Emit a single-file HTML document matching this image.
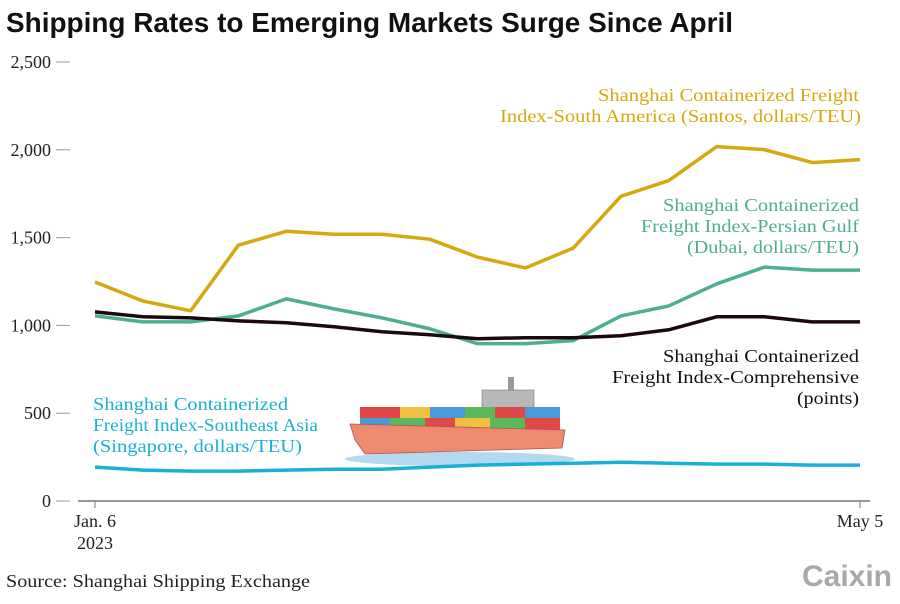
<!DOCTYPE html>
<html><head><meta charset="utf-8"><style>
body{margin:0;background:#fff;}
svg text{font-family:"Liberation Serif",serif;}
</style></head><body>
<svg width="900" height="599" viewBox="0 0 900 599">
<text x="6" y="32" font-weight="bold" font-size="28" fill="#111" textLength="727" lengthAdjust="spacingAndGlyphs" style="font-family:'Liberation Sans',sans-serif">Shipping Rates to Emerging Markets Surge Since April</text>
<g id="yaxis"></g>
<line x1="78" y1="501" x2="870" y2="501" stroke="#777" stroke-width="1.5"/>
<line x1="95" y1="501" x2="95" y2="508" stroke="#777"/>
<line x1="860" y1="501" x2="860" y2="508" stroke="#777"/>
<text x="95" y="527" text-anchor="middle" font-size="18" fill="#222">Jan. 6</text>
<text x="95" y="549" text-anchor="middle" font-size="18" fill="#222">2023</text>
<text x="860" y="527" text-anchor="middle" font-size="18" fill="#222">May 5</text>
<g>
<ellipse cx="460" cy="459" rx="115" ry="7" fill="#9fd0ea" opacity="0.8"/>
<rect x="482" y="390" width="52" height="28" fill="#b8b8b8" stroke="#777" stroke-width="0.6"/>
<rect x="508" y="377" width="6" height="14" fill="#999"/>
<rect x="360" y="407" width="200" height="23" fill="#8aa"/>
<rect x="360" y="407" width="40" height="11" fill="#e04848"/><rect x="400" y="407" width="30" height="11" fill="#f0c040"/><rect x="430" y="407" width="35" height="11" fill="#4a9ad8"/><rect x="465" y="407" width="30" height="11" fill="#5cb85c"/><rect x="495" y="407" width="30" height="11" fill="#e04848"/><rect x="525" y="407" width="35" height="11" fill="#4a9ad8"/>
<rect x="360" y="418" width="30" height="12" fill="#4a9ad8"/><rect x="390" y="418" width="35" height="12" fill="#5cb85c"/><rect x="425" y="418" width="30" height="12" fill="#e04848"/><rect x="455" y="418" width="35" height="12" fill="#f0c040"/><rect x="490" y="418" width="35" height="12" fill="#5cb85c"/><rect x="525" y="418" width="35" height="12" fill="#e04848"/>
<path d="M350 424 L565 430 L562 448 L365 454 L355 440 Z" fill="#ee8a70" stroke="#a55" stroke-width="0.8"/>
</g>
<g id="series"></g>
<text x="598" y="101" font-size="18" fill="#d4a90f" textLength="261" lengthAdjust="spacingAndGlyphs">Shanghai Containerized Freight</text>
<text x="500" y="122" font-size="18" fill="#d4a90f" textLength="361" lengthAdjust="spacingAndGlyphs">Index-South America (Santos, dollars/TEU)</text>
<text x="663" y="211" font-size="18" fill="#4fae8e" textLength="196" lengthAdjust="spacingAndGlyphs">Shanghai Containerized</text>
<text x="641" y="232" font-size="18" fill="#4fae8e" textLength="218" lengthAdjust="spacingAndGlyphs">Freight Index-Persian Gulf</text>
<text x="687" y="253" font-size="18" fill="#4fae8e" textLength="172" lengthAdjust="spacingAndGlyphs">(Dubai, dollars/TEU)</text>
<text x="663" y="362" font-size="18" fill="#111" textLength="196" lengthAdjust="spacingAndGlyphs">Shanghai Containerized</text>
<text x="612" y="383" font-size="18" fill="#111" textLength="247" lengthAdjust="spacingAndGlyphs">Freight Index-Comprehensive</text>
<text x="797" y="404" font-size="18" fill="#111" textLength="62" lengthAdjust="spacingAndGlyphs">(points)</text>
<text x="93" y="410" font-size="18" fill="#1ab0d6" textLength="195" lengthAdjust="spacingAndGlyphs">Shanghai Containerized</text>
<text x="93" y="431" font-size="18" fill="#1ab0d6" textLength="225" lengthAdjust="spacingAndGlyphs">Freight Index-Southeast Asia</text>
<text x="93" y="452" font-size="18" fill="#1ab0d6" textLength="209" lengthAdjust="spacingAndGlyphs">(Singapore, dollars/TEU)</text>
<text x="6" y="587" font-size="18" fill="#222" textLength="304" lengthAdjust="spacingAndGlyphs">Source: Shanghai Shipping Exchange</text>
<text x="892" y="586" text-anchor="end" font-size="30" font-weight="bold" fill="#a9a9a9" style="font-family:'Liberation Sans',sans-serif">Caixin</text>
</svg>
<script>
const yTicks=[0,500,1000,1500,2000,2500];
const southAmerica=[1247,1139,1083,1457,1536,1519,1519,1491,1389,1327,1440,1735,1825,2018,2001,1927,1944];
const persianGulf=[1054,1020,1020,1054,1151,1094,1043,981,896,896,913,1054,1111,1236,1332,1315,1315];
const comprehensive=[1077,1049,1043,1026,1015,992,964,947,924,930,930,941,975,1049,1049,1020,1020];
const southeastAsia=[193,176,170,170,176,181,181,193,204,210,215,221,215,210,210,204,204];
const NS='http://www.w3.org/2000/svg';
function yS(v){return 501-v*(501-62)/2500;}
function xS(i,n){return 95+i*(860-95)/(n-1);}
const ya=document.getElementById('yaxis');
yTicks.forEach(t=>{
 const tx=document.createElementNS(NS,'text');
 
 
 tx.setAttribute('x',51);tx.setAttribute('y',yS(t)+6);tx.setAttribute('text-anchor','end');
 tx.setAttribute('font-size','18');tx.setAttribute('fill','#222');
 tx.textContent=t.toLocaleString('en-US');ya.appendChild(tx);
 const l=document.createElementNS(NS,'line');
 
 
 l.setAttribute('x1',56);l.setAttribute('x2',70);l.setAttribute('y1',yS(t));l.setAttribute('y2',yS(t));
 l.setAttribute('stroke','#999');ya.appendChild(l);
});
const sg=document.getElementById('series');
[[southeastAsia,'#1ab0d6','line-southeast-asia'],[persianGulf,'#4fae8e','line-persian-gulf'],[comprehensive,'#1a0a0a','line-comprehensive'],[southAmerica,'#d4a90f','line-south-america']].forEach(([d,c,n])=>{
 const p=document.createElementNS(NS,'polyline');
 
 
 p.setAttribute('points',d.map((v,i)=>xS(i,d.length)+','+yS(v)).join(' '));
 p.setAttribute('fill','none');p.setAttribute('stroke',c);p.setAttribute('stroke-width','3.5');
 p.setAttribute('stroke-linejoin','round');
 sg.appendChild(p);
});
</script>
</body></html>
